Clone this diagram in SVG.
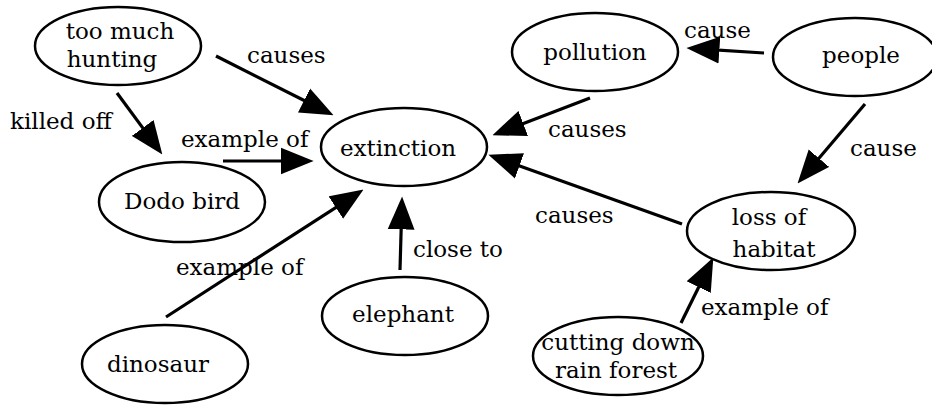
<svg xmlns="http://www.w3.org/2000/svg" width="932" height="406" viewBox="0 0 932 406">
<style>
.n ellipse{fill:#fff;stroke:#000;stroke-width:2.5}
text{font-family:"DejaVu Serif","Liberation Serif",serif;font-size:23px;fill:#000}
.n text{text-anchor:middle}
.c line{stroke:#000;stroke-width:3.2;marker-end:url(#ah)}
</style>
<defs>
<marker id="ah" markerUnits="userSpaceOnUse" markerWidth="33" markerHeight="28" viewBox="0 0 32 26" refX="12" refY="13" orient="auto">
<path d="M0,0 L32,13 L0,26 z" fill="#000"/>
</marker>
</defs>
<rect width="932" height="406" fill="#fff"/>
<g class="c" id="connectors">
<line x1="216" y1="56" x2="315.1" y2="106"/>
<line x1="117" y1="93" x2="150.1" y2="137.9"/>
<line x1="223" y1="161" x2="293" y2="161"/>
<line x1="590" y1="98" x2="511.7" y2="127.9"/>
<line x1="764" y1="53" x2="707" y2="49.3"/>
<line x1="865" y1="104" x2="810.9" y2="167.7"/>
<line x1="682" y1="224" x2="507.8" y2="161.7"/>
<line x1="681" y1="323" x2="704.2" y2="276"/>
<line x1="400" y1="270" x2="401.5" y2="217"/>
<line x1="166" y1="317" x2="346.2" y2="200.8"/>
</g>
<g id="labels">
<text x="247" y="63">causes</text>
<text x="10" y="129">killed off</text>
<text x="181" y="147">example of</text>
<text x="548" y="137">causes</text>
<text x="684" y="38">cause</text>
<text x="850" y="156">cause</text>
<text x="535" y="223">causes</text>
<text x="701" y="315">example of</text>
<text x="413" y="257">close to</text>
<text x="176" y="275">example of</text>
</g>
<g class="n" id="too-much-hunting"><ellipse cx="118" cy="46" rx="83" ry="39"/><text x="120" y="39">too much</text><text x="112" y="67">hunting</text></g>
<g class="n" id="dodo-bird"><ellipse cx="182" cy="202" rx="83" ry="40"/><text x="182" y="209">Dodo bird</text></g>
<g class="n" id="extinction"><ellipse cx="404" cy="147" rx="83" ry="39"/><text x="398" y="156">extinction</text></g>
<g class="n" id="pollution"><ellipse cx="595" cy="52" rx="83" ry="39"/><text x="595" y="60">pollution</text></g>
<g class="n" id="people"><ellipse cx="855" cy="57" rx="82" ry="39"/><text x="861" y="63">people</text></g>
<g class="n" id="loss-of-habitat"><ellipse cx="771" cy="231" rx="84" ry="39"/><text x="769" y="225">loss of</text><text x="774" y="257">habitat</text></g>
<g class="n" id="cutting-down-rain-forest"><ellipse cx="618" cy="356" rx="85" ry="39"/><text x="618" y="350">cutting down</text><text x="616" y="378">rain forest</text></g>
<g class="n" id="elephant"><ellipse cx="405" cy="316" rx="83" ry="39"/><text x="403" y="322">elephant</text></g>
<g class="n" id="dinosaur"><ellipse cx="165" cy="364" rx="83" ry="39"/><text x="158" y="372">dinosaur</text></g>
</svg>
